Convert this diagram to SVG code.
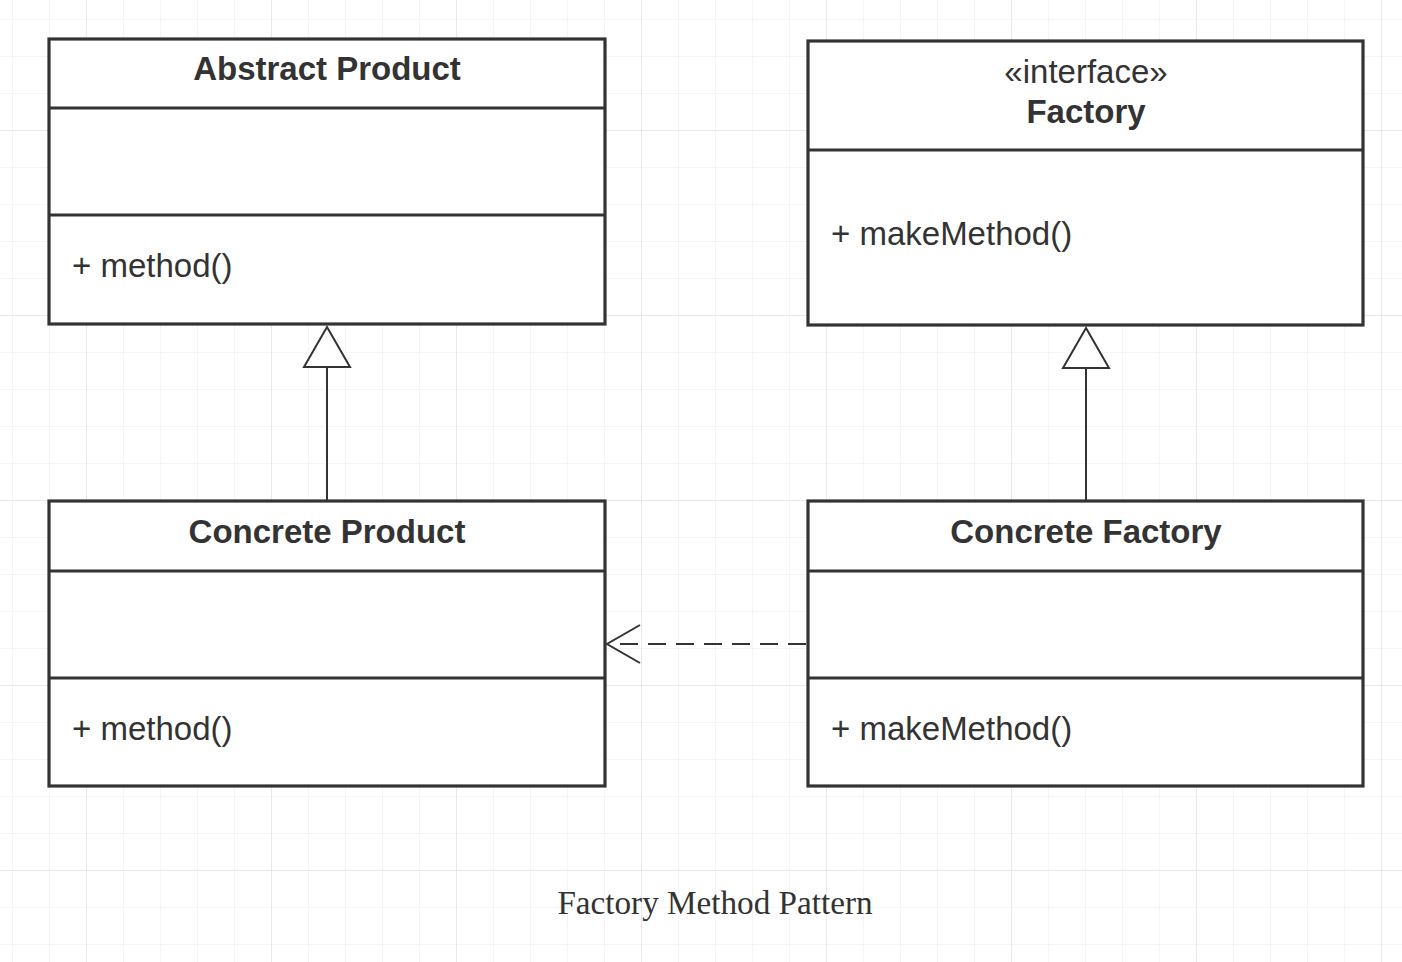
<svg xmlns="http://www.w3.org/2000/svg" width="1402" height="962" viewBox="0 0 1402 962">
<defs>
<pattern id="minor" x="12" y="19" width="37" height="37" patternUnits="userSpaceOnUse">
<path d="M0 0V37M0 0H37" fill="none" stroke="#ebebeb" stroke-width="1"/>
</pattern>
<pattern id="major" x="86" y="130" width="185" height="185" patternUnits="userSpaceOnUse">
<path d="M0 0V185M0 0H185" fill="none" stroke="#dedede" stroke-width="1"/>
</pattern>
</defs>
<style>
.box{fill:#fff;stroke:#333;stroke-width:3.2}
.div{stroke:#333;stroke-width:3.2}
.t{font-family:"Liberation Sans",Arial,sans-serif;font-size:33px;fill:#333}
.b{font-weight:bold;text-anchor:middle}
.c{text-anchor:middle}
.ln{stroke:#333;stroke-width:2;fill:none}
.tri{fill:#fff;stroke:#333;stroke-width:2}
</style>
<rect width="1402" height="962" fill="#fff"/>
<rect width="1402" height="962" fill="url(#minor)"/>
<rect width="1402" height="962" fill="url(#major)"/>
<g id="connectors">
<path class="ln" d="M327 501V367"/>
<path class="tri" d="M327 327 L350 367 L304 367 Z"/>
<path class="ln" d="M1086 501V368"/>
<path class="tri" d="M1086 328 L1109 368 L1063 368 Z"/>
<path class="ln" d="M806 644H613" stroke-dasharray="18,10"/>
<path class="ln" d="M640 625 L607 644 L640 663"/>
</g>
<g id="abstract-product">
<rect class="box" x="49" y="39" width="556" height="285"/>
<line class="div" x1="49" y1="108" x2="605" y2="108"/>
<line class="div" x1="49" y1="215" x2="605" y2="215"/>
<text class="t b" x="327" y="80">Abstract Product</text>
<text class="t" x="72" y="277">+ method()</text>
</g>
<g id="factory">
<rect class="box" x="808" y="41" width="555" height="284"/>
<line class="div" x1="808" y1="150" x2="1363" y2="150"/>
<text class="t c" x="1086" y="83">«interface»</text>
<text class="t b" x="1086" y="123">Factory</text>
<text class="t" x="831" y="245">+ makeMethod()</text>
</g>
<g id="concrete-product">
<rect class="box" x="49" y="501" width="556" height="285"/>
<line class="div" x1="49" y1="571" x2="605" y2="571"/>
<line class="div" x1="49" y1="678" x2="605" y2="678"/>
<text class="t b" x="327" y="543">Concrete Product</text>
<text class="t" x="72" y="740">+ method()</text>
</g>
<g id="concrete-factory">
<rect class="box" x="808" y="501" width="555" height="285"/>
<line class="div" x1="808" y1="571" x2="1363" y2="571"/>
<line class="div" x1="808" y1="678" x2="1363" y2="678"/>
<text class="t b" x="1086" y="543">Concrete Factory</text>
<text class="t" x="831" y="740">+ makeMethod()</text>
</g>
<text x="715" y="914" text-anchor="middle" font-family="'Liberation Serif','Times New Roman',serif" font-size="33.2" fill="#333">Factory Method Pattern</text>
</svg>
